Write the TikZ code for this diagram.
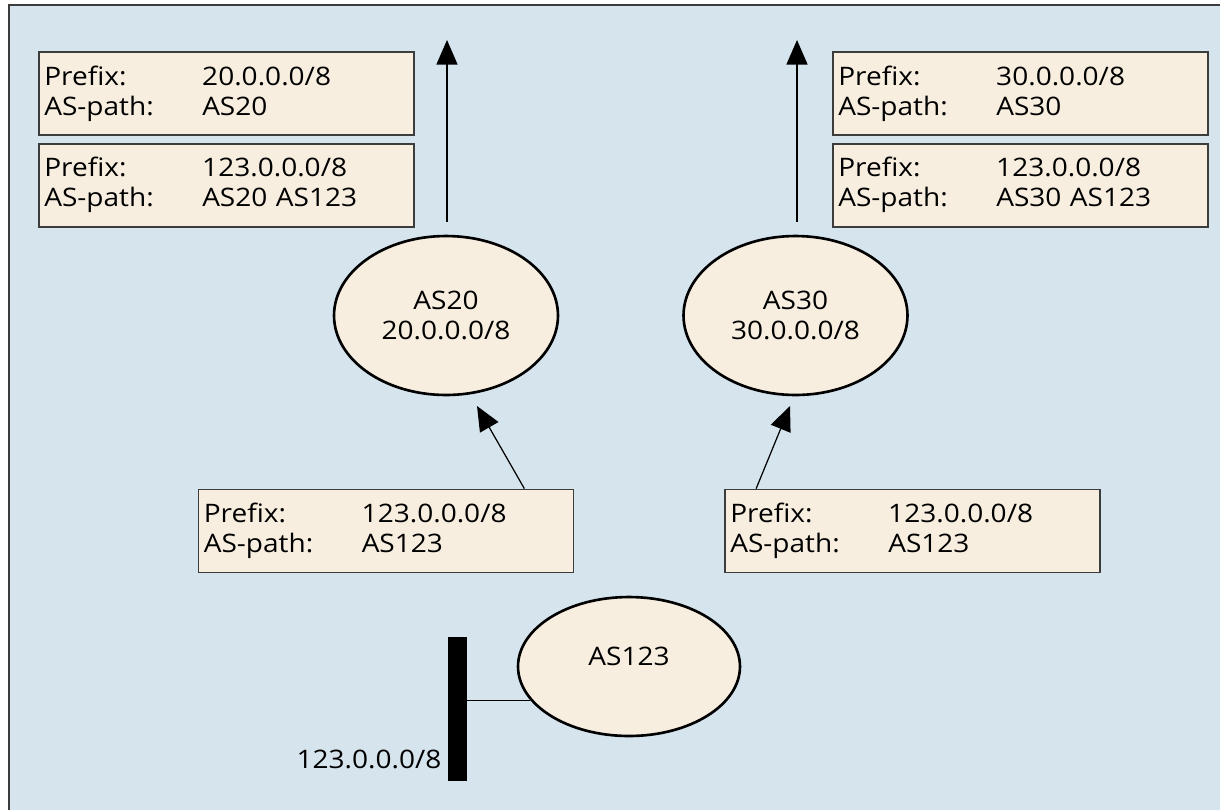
\documentclass[tikz,border=0pt]{standalone}
\usepackage{fontspec}
\setmainfont[FakeStretch=1.1]{Open Sans}
\usetikzlibrary{arrows.meta,positioning,shapes.geometric}
\definecolor{panel}{HTML}{D6E4EE}
\definecolor{cream}{HTML}{F7EEDF}
\definecolor{rim}{HTML}{3C3C3C}
\newcommand{\route}[2]{\makebox[3.16cm][l]{Prefix:}#1\\\makebox[3.16cm][l]{AS-path:}#2}
\begin{document}
\begin{tikzpicture}[x=0.02cm,y=-0.02cm,font=\fontsize{14.5pt}{17pt}\selectfont]
  \tikzstyle{route}=[draw=rim,line width=1pt,fill=cream,align=left,text width=7.29cm,inner xsep=3pt,minimum height=1.66cm]
  \tikzstyle{as}=[ellipse,draw,line width=1.5pt,fill=cream,align=center,inner sep=0pt]
  \tikzstyle{adv}=[-{Triangle[length=14pt,width=12pt]},line width=0.7pt]
  \useasboundingbox (0,0) rectangle (1220,809);
  \clip (0,0) rectangle (1220,809);
  \draw[rim,line width=1.2pt,fill=panel] (9,5) rectangle (1250,840);
  \node[route] (pre20) at (226.5,93.5) {\route{20.0.0.0/8}{AS20}};
  \node[route,below=0.14cm of pre20] (path20) {\route{123.0.0.0/8}{AS20 AS123}};
  \node[route] (pre30) at (1020.5,93.5) {\route{30.0.0.0/8}{AS30}};
  \node[route,below=0.14cm of pre30] (path30) {\route{123.0.0.0/8}{AS30 AS123}};
  \node[as,minimum width=4.48cm,minimum height=3.18cm] (as20) at (446,315.5) {AS20\\20.0.0.0/8};
  \node[as,minimum width=4.48cm,minimum height=3.18cm] (as30) at (795.5,315.5) {AS30\\30.0.0.0/8};
  \node[route] (in20) at (386,531) {\route{123.0.0.0/8}{AS123}};
  \node[route] (in30) at (912.5,531) {\route{123.0.0.0/8}{AS123}};
  \node[as,minimum width=4.44cm,minimum height=2.78cm,text depth=11.4pt] (as123) at (629,666.5) {AS123};
  \node[fill=black,inner sep=0pt,minimum width=0.38cm,minimum height=2.88cm] (lan) at (457.5,709) {};
  \node[anchor=east] (lannet) at ([yshift=0.44cm]lan.south west) {123.0.0.0/8};
  \coordinate (out20) at (447,40);
  \coordinate (out30) at (797,40);
  \coordinate (tip20) at (477,406);
  \coordinate (tip30) at (790,406);
  \draw[adv,shorten <=0.26cm] (as20.north -| out20) -- (out20);
  \draw[adv,shorten <=0.26cm] (as30.north -| out30) -- (out30);
  \draw[adv] ([xshift=-1cm]in20.north east) -- (tip20);
  \draw[adv] ([xshift=0.64cm]in30.north west) -- (tip30);
  \draw[line width=0.7pt] (as123.199) -- (as123.199 -| lan.east);
\end{tikzpicture}
\end{document}
